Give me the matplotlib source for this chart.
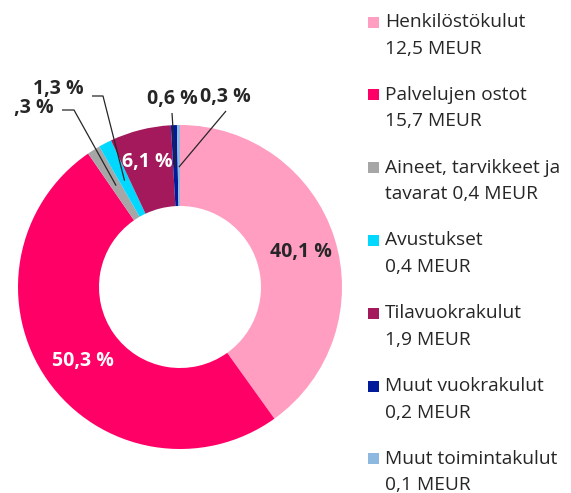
import matplotlib
matplotlib.use("Agg")
import matplotlib.pyplot as plt
from matplotlib.patches import Rectangle
import numpy as np

plt.rcParams['font.family'] = ['Open Sans', 'DejaVu Sans']

categories = ["Henkilöstökulut", "Palvelujen ostot", "Aineet, tarvikkeet ja tavarat",
              "Avustukset", "Tilavuokrakulut", "Muut vuokrakulut", "Muut toimintakulut"]
meur = ["12,5", "15,7", "0,4", "0,4", "1,9", "0,2", "0,1"]
percent = [40.1, 50.3, 1.3, 1.3, 6.1, 0.6, 0.3]
pct_labels = ["40,1 %", "50,3 %", "1,3 %", "1,3 %", "6,1 %", "0,6 %", "0,3 %"]
legend_lines = [["Henkilöstökulut", "12,5 MEUR"],
                ["Palvelujen ostot", "15,7 MEUR"],
                ["Aineet, tarvikkeet ja", "tavarat 0,4 MEUR"],
                ["Avustukset", "0,4 MEUR"],
                ["Tilavuokrakulut", "1,9 MEUR"],
                ["Muut vuokrakulut", "0,2 MEUR"],
                ["Muut toimintakulut", "0,1 MEUR"]]
colors = ["#FF9EC1", "#FF0066", "#A6A6A6", "#00D8FF", "#A3195B", "#001A99", "#8DB8E0"]

W, H = 571, 493
fig = plt.figure(figsize=(W / 100, H / 100), dpi=100)

# pie axes: center (180, 287) px, radius 162 px
cx, cy, R = 180, 287, 162
left_px, right_px = 13, 360
ax = fig.add_axes([left_px / W, 0, (right_px - left_px) / W, 1])

wedges, _ = ax.pie(percent, colors=colors, startangle=90, counterclock=False,
                   radius=1.0, wedgeprops=dict(width=0.5, linewidth=0))
ax.set_aspect('auto')
ax.set_xlim((left_px - cx) / R, (right_px - cx) / R)
ax.set_ylim(-(H - cy) / R, cy / R)
ax.axis('off')

text_color = "#262626"
lbl_font = dict(fontsize=14, fontweight='bold')

def px2d(x, y):
    return ((x - cx) / R, (cy - y) / R)

inside = {0: ((301, 252), text_color), 1: ((83, 361), 'white'), 4: ((147, 162), 'white')}
for i, (pos, col) in inside.items():
    tx, ty = px2d(*pos)
    ax.text(tx, ty, pct_labels[i], ha='center', va='center', color=col, **lbl_font)

# leader-line labels for small slices
small = {2: ((54, 108), 'right', [(62, 110), (74, 110)]),
         3: ((58, 89), 'center', [(92, 96), (103, 96)]),
         5: ((172, 99), 'center', [(172, 113)]),
         6: ((225, 97), 'center', [(226, 111)])}
for i, (tpos, ha, pts) in small.items():
    w = wedges[i]
    mid = np.deg2rad((w.theta1 + w.theta2) / 2)
    r_end = 0.74
    end = (r_end * np.cos(mid), r_end * np.sin(mid))
    line_pts = [px2d(*p) for p in pts] + [end]
    xs, ys = zip(*line_pts)
    ax.plot(xs, ys, color="#262626", lw=0.9, solid_capstyle='butt')
    tx, ty = px2d(*tpos)
    ax.text(tx, ty, pct_labels[i], ha=ha, va='center', color=text_color,
            clip_on=True, **lbl_font)

# legend
y0, dy, line_gap = 22, 72.8, 26.5
for i, lines in enumerate(legend_lines):
    yl = y0 + i * dy
    fig.add_artist(Rectangle((368 / W, 1 - (yl + 5.5) / H), 11 / W, 11 / H,
                             transform=fig.transFigure, color=colors[i], linewidth=0))
    for j, t in enumerate(lines):
        fig.text(385 / W, 1 - (yl + j * line_gap) / H, t, ha='left', va='center',
                 fontsize=13.8, color=text_color)

fig.savefig("out.png", dpi=100)
